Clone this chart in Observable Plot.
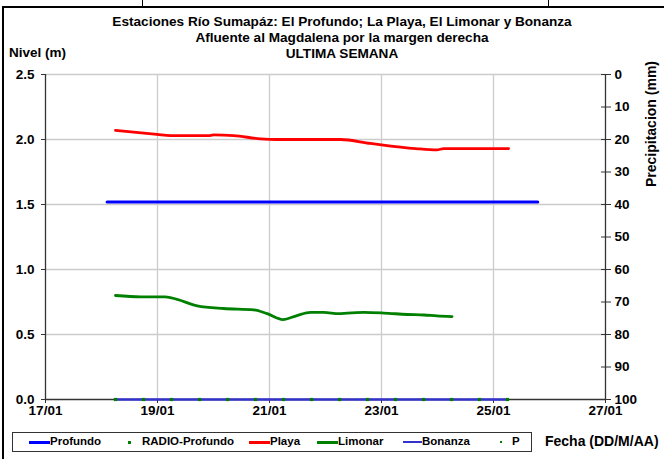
<!DOCTYPE html>
<html>
<head>
<meta charset="utf-8">
<script src="https://cdn.jsdelivr.net/npm/d3@7"></script>
<script src="https://cdn.jsdelivr.net/npm/@observablehq/plot@0.6"></script>
<style>
  body { margin:0; background:#fff; }
  #wrap { position:relative; width:664px; height:459px; overflow:hidden; font-family:"Liberation Sans", Arial, sans-serif; color:#000; }
  .t { position:absolute; font-weight:bold; white-space:nowrap; }
  .ctr { transform:translateX(-50%); }
  #chart { position:absolute; left:0; top:60px; }
  .leg { position:absolute; top:432px; left:12px; width:520px; height:20px; border:1px solid #333; box-sizing:border-box; }
  .li { position:absolute; top:2px; font-size:11.5px; font-weight:bold; }
  .sw { position:absolute; top:8px; height:3px; }
  .dt { position:absolute; top:8px; width:3px; height:3px; background:#008000; }
</style>
</head>
<body>
<div id="wrap">
  <div style="position:absolute;left:2px;top:6px;width:2px;height:453px;background:#000"></div>
  <div style="position:absolute;left:2px;top:6px;width:662px;height:2px;background:#000"></div>
  <div style="position:absolute;left:142px;top:0;width:1px;height:7px;background:#000"></div>
  <div style="position:absolute;left:548px;top:0;width:1px;height:7px;background:#000"></div>
  <div class="t ctr" style="left:342px;top:14px;font-size:13.6px">Estaciones Río Sumapáz: El Profundo; La Playa, El Limonar y Bonanza</div>
  <div class="t ctr" style="left:342px;top:30px;font-size:13.6px">Afluente al Magdalena por la margen derecha</div>
  <div class="t ctr" style="left:342px;top:46px;font-size:13.6px">ULTIMA SEMANA</div>
  <div class="t" style="left:9px;top:45px;font-size:13.5px">Nivel (m)</div>
  <div class="t" style="left:651px;top:124px;font-size:14px;transform:translate(-50%,-50%) rotate(-90deg)">Precipitacion (mm)</div>
  <div id="chart"></div>
  <div class="leg">
    <div class="sw" style="left:16px;width:21px;background:#0000ff"></div>
    <div class="li" style="left:37px">Profundo</div>
    <div class="dt" style="left:115px"></div>
    <div class="li" style="left:129px">RADIO-Profundo</div>
    <div class="sw" style="left:236px;width:21px;background:#ff0000"></div>
    <div class="li" style="left:257px">Playa</div>
    <div class="sw" style="left:304px;width:21px;background:#008000"></div>
    <div class="li" style="left:325px">Limonar</div>
    <div class="sw" style="left:390px;width:19px;height:2px;background:#3333cc"></div>
    <div class="li" style="left:409px">Bonanza</div>
    <div class="dt" style="left:487px;width:2px;height:2px"></div>
    <div class="li" style="left:499px">P</div>
  </div>
  <div class="t" style="left:545px;top:433px;font-size:14px">Fecha (DD/M/AA)</div>
</div>
<script>
// x values are days of January
const xTicks = [17, 19, 21, 23, 25, 27];
const levelTicks = [0, 0.5, 1.0, 1.5, 2.0, 2.5];
const precipTicks = [0, 10, 20, 30, 40, 50, 60, 70, 80, 90, 100];

const profundoDays = [18.1, 19, 20, 21, 22, 23, 24, 25, 25.79];
const profundoLevel = [1.52, 1.52, 1.52, 1.52, 1.52, 1.52, 1.52, 1.52, 1.52];

const playaDays = [18.25, 18.99, 19.23, 19.91, 20.0, 20.36, 20.84, 21.14, 22.27, 22.80, 23.61, 23.99, 24.11, 25.27];
const playaLevel = [2.07, 2.04, 2.03, 2.03, 2.035, 2.03, 2.005, 2.0, 2.0, 1.97, 1.93, 1.92, 1.93, 1.93];

const limonarDays = [18.25, 18.70, 19.14, 19.35, 19.71, 20.18, 20.72, 20.96, 21.24, 21.49, 21.73, 21.97, 22.24, 22.39, 22.68, 23.04, 23.46, 23.76, 23.99, 24.26];
const limonarLevel = [0.80, 0.79, 0.79, 0.77, 0.72, 0.70, 0.69, 0.66, 0.615, 0.646, 0.67, 0.67, 0.66, 0.665, 0.67, 0.665, 0.654, 0.65, 0.643, 0.638];

const bonanzaDays = [18.25, 25.25];
const bonanzaLevel = [0, 0];

const radioDays = [18.25, 18.75, 19.25, 19.75, 20.25, 20.75, 21.25, 21.75, 22.25, 22.75, 23.25, 23.75, 24.25, 24.75, 25.25];
const radioLevel = [0, 0, 0, 0, 0, 0, 0, 0, 0, 0, 0, 0, 0, 0, 0];

const toRows = (xs, ys) => xs.map((x, i) => ({x, y: ys[i]}));
const profundo = toRows(profundoDays, profundoLevel);
const playa = toRows(playaDays, playaLevel);
const limonar = toRows(limonarDays, limonarLevel);
const bonanza = toRows(bonanzaDays, bonanzaLevel);
const radio = toRows(radioDays, radioLevel);

// precipitation axis: 0 mm at top (2.5 m) to 100 mm at bottom (0 m)
const precipToLevel = p => 2.5 - p * 0.025;
const levelToPrecip = v => Math.round((2.5 - v) / 0.025);

const fmtDay = d => String(d).padStart(2, "0") + "/01";

const chart = Plot.plot({
  width: 664,
  height: 360,
  marginLeft: 45,
  marginRight: 59,
  marginTop: 14,
  marginBottom: 21,
  style: {fontFamily: "Liberation Sans, Arial, sans-serif", fontSize: "13.5px", fontWeight: "bold", color: "#000", background: "transparent", overflow: "visible"},
  x: {domain: [17, 27]},
  y: {domain: [0, 2.5]},
  marks: [
    Plot.gridY(levelTicks.filter(d => d > 0), {stroke: "#cccccc", strokeOpacity: 1, strokeWidth: 1.3}),
    Plot.gridX(xTicks.slice(1, -1), {stroke: "#cccccc", strokeOpacity: 1, strokeWidth: 1.3}),
    Plot.axisY({ticks: levelTicks, tickFormat: d => d.toFixed(1), tickSize: 4, tickPadding: 7, label: null, stroke: "#333"}),
    Plot.axisY({anchor: "right", ticks: precipTicks.map(precipToLevel), tickFormat: levelToPrecip, tickSize: 5, tickPadding: 4, label: null, stroke: "#333"}),
    Plot.axisY({anchor: "right", ticks: precipTicks.map(precipToLevel), tickFormat: () => "", tickSize: -5, label: null, stroke: "#333"}),
    Plot.axisX({ticks: xTicks, tickFormat: fmtDay, tickSize: 4, tickPadding: 2, label: null, stroke: "#333"}),
    Plot.ruleX([17], {stroke: "#333", strokeWidth: 1.3}),
    Plot.ruleX([27], {stroke: "#333", strokeWidth: 1.3}),
    Plot.ruleY([0], {stroke: "#333", strokeWidth: 1.3}),
    Plot.line(profundo, {x: "x", y: "y", stroke: "#0000ff", strokeWidth: 3}),
    Plot.line(playa, {x: "x", y: "y", stroke: "#ff0000", strokeWidth: 2.8, curve: "monotone-x"}),
    Plot.line(limonar, {x: "x", y: "y", stroke: "#008000", strokeWidth: 2.8, curve: "monotone-x"}),
    Plot.line(bonanza, {x: "x", y: "y", stroke: "#3333cc", strokeWidth: 2.5}),
    Plot.dot(radio, {x: "x", y: "y", fill: "#008000", r: 1.8, symbol: "square"})
  ]
});
document.getElementById("chart").appendChild(chart);
</script>
</body>
</html>
